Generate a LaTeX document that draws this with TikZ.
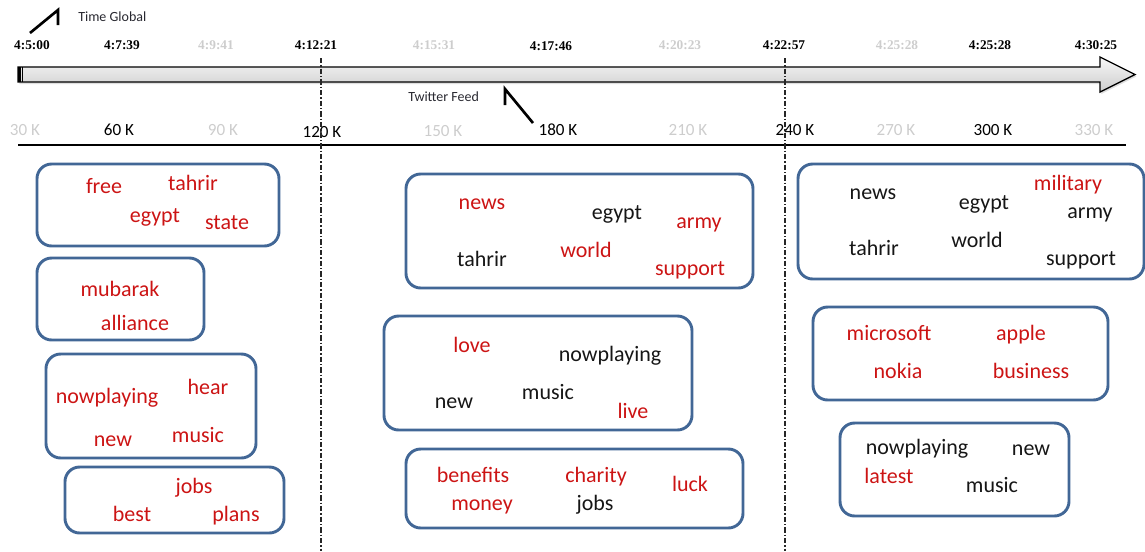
\documentclass[tikz,border=0pt]{standalone}
\usepackage{fontspec}
\setmainfont{Carlito}
\newfontfamily\timefont{Liberation Serif}
\usetikzlibrary{shadows}
\definecolor{boxblue}{RGB}{66,103,150}
\definecolor{wordred}{RGB}{204,20,20}
\definecolor{faint}{RGB}{205,205,205}
\definecolor{ink}{RGB}{22,22,22}
\definecolor{note}{RGB}{40,40,48}
\begin{document}
\begin{tikzpicture}[x=0.75pt,y=-0.75pt,
  wordbox/.style={draw=boxblue, line width=2.2pt, rounded corners=11pt},
  w/.style={anchor=base, inner sep=0pt, font=\fontsize{16.5}{18}\selectfont, text=ink},
  hot/.style={w, text=wordred},
  tick/.style={anchor=base, inner sep=0pt, font=\timefont\bfseries\fontsize{10}{12}\selectfont, text=black},
  ftick/.style={tick, text=faint},
  kl/.style={anchor=base, inner sep=0pt, font=\fontsize{12.8}{14}\selectfont, text=black},
  fkl/.style={kl, text=faint},
  caption/.style={anchor=base west, inner sep=0pt, font=\fontsize{10.5}{12}\selectfont, text=note},
  pointer/.style={draw=black, line width=2pt, line join=miter},
  divider/.style={draw=black!85, line width=0.8pt, dash pattern=on 4pt off 1.5pt on 1pt off 1.5pt}
]
\useasboundingbox (0,0) rectangle (1145,551);

% time axis: block arrow
\path[draw=black, line width=1pt, top color=gray!6, bottom color=gray!40,
      drop shadow={shadow xshift=1pt, shadow yshift=-1.5pt, opacity=0.25}]
  (18,67) -- (1100,67) -- (1100,57) -- (1135,74.5) -- (1100,92) -- (1100,82) -- (18,82) -- cycle;
\fill[black] (18,67) rectangle (20.5,82);
\draw[black, line width=0.6pt] (22,67) -- (22,82);

% time stamps
\node[tick]  (t1)  at (32,49)   {4:5:00};
\node[tick]  (t2)  at (122,49)  {4:7:39};
\node[ftick] (t3)  at (216,49)  {4:9:41};
\node[tick]  (t4)  at (316,49)  {4:12:21};
\node[ftick] (t5)  at (434,49)  {4:15:31};
\node[tick]  (t6)  at (551,50)  {4:17:46};
\node[ftick] (t7)  at (680,49)  {4:20:23};
\node[tick]  (t8)  at (784,49)  {4:22:57};
\node[ftick] (t9)  at (897,49)  {4:25:28};
\node[tick]  (t10) at (990,49)  {4:25:28};
\node[tick]  (t11) at (1096,49) {4:30:25};

% captions and their pointers
\node[caption] (tglobal) at (78,21)  {Time Global};
\node[caption] (tfeed)   at (408,101) {Twitter Feed};
\coordinate (tga) at (30,33);
\coordinate (tgb) at (58,10);
\coordinate (tgc) at (58,25);
\draw[pointer] (tga) -- (tgb) -- (tgc);
\coordinate (tfa) at (533,123);
\coordinate (tfb) at (505,89);
\coordinate (tfc) at (505,105);
\draw[pointer] (tfa) -- (tfb) -- (tfc);

% tweet counts
\node[fkl] (k30)  at (25,135)   {30 K};
\node[kl]  (k60)  at (119,135)  {60 K};
\node[fkl] (k90)  at (223,135)  {90 K};
\node[kl]  (k120) at (322,137)  {120 K};
\node[fkl] (k150) at (443,136)  {150 K};
\node[kl]  (k180) at (558,135)  {180 K};
\node[fkl] (k210) at (688,135)  {210 K};
\node[kl]  (k240) at (795,135)  {240 K};
\node[fkl] (k270) at (896,135)  {270 K};
\node[kl]  (k300) at (993,135)  {300 K};
\node[fkl] (k330) at (1094,135) {330 K};
\coordinate (rulel) at (18,145);
\coordinate (ruler) at (1126,145);
\draw[black, line width=1pt] (rulel) -- (ruler);

% window boundaries
\coordinate (d1t) at (321,58);
\coordinate (d1b) at (321,551);
\coordinate (d2t) at (785,58);
\coordinate (d2b) at (785,551);
\draw[divider] (d1t) -- (d1b);
\draw[divider] (d2t) -- (d2b);

% first window
\draw[wordbox] (37,164) rectangle (279,246);
\node[hot] (a1) at (104,193) {free};
\node[hot] (a2) at (193,190) {tahrir};
\node[hot] (a3) at (155,222) {egypt};
\node[hot] (a4) at (227,229) {state};
\draw[wordbox] (37,258) rectangle (204,340);
\node[hot] (a5) at (120,296) {mubarak};
\node[hot] (a6) at (135,330) {alliance};
\draw[wordbox] (46,354) rectangle (256,458);
\node[hot] (a7) at (107,403) {nowplaying};
\node[hot] (a8) at (208,394) {hear};
\node[hot] (a9) at (113,446) {new};
\node[hot] (a10) at (198,442) {music};
\draw[wordbox] (65,467) rectangle (284,533);
\node[hot] (a11) at (194,493) {jobs};
\node[hot] (a12) at (132,521) {best};
\node[hot] (a13) at (236,521) {plans};

% second window
\draw[wordbox] (406,174) rectangle (753,288);
\node[hot] (b1) at (482,209) {news};
\node[w]   (b2) at (617,219) {egypt};
\node[hot] (b3) at (699,228) {army};
\node[w]   (b4) at (482,266) {tahrir};
\node[hot] (b5) at (586,257) {world};
\node[hot] (b6) at (690,275) {support};
\draw[wordbox] (384,316) rectangle (692,430);
\node[hot] (b7) at (472,352) {love};
\node[w]   (b8) at (610,361) {nowplaying};
\node[w]   (b9) at (454,408) {new};
\node[w]   (b10) at (548,399) {music};
\node[hot] (b11) at (633,418) {live};
\draw[wordbox] (406,449) rectangle (743,528);
\node[hot] (b12) at (473,482) {benefits};
\node[hot] (b13) at (596,482) {charity};
\node[hot] (b14) at (690,491) {luck};
\node[hot] (b15) at (482,510) {money};
\node[w]   (b16) at (595,510) {jobs};

% third window
\draw[wordbox] (798,164) rectangle (1144,279);
\node[w]   (c1) at (873,199) {news};
\node[w]   (c2) at (984,209) {egypt};
\node[hot] (c3) at (1068,190) {military};
\node[w]   (c4) at (1090,218) {army};
\node[w]   (c5) at (874,255) {tahrir};
\node[w]   (c6) at (977,247) {world};
\node[w]   (c7) at (1081,265) {support};
\draw[wordbox] (813,307) rectangle (1108,400);
\node[hot] (c8) at (889,340) {microsoft};
\node[hot] (c9) at (1021,340) {apple};
\node[hot] (c10) at (898,378) {nokia};
\node[hot] (c11) at (1031,378) {business};
\draw[wordbox] (840,423) rectangle (1069,516);
\node[w]   (c12) at (917,454) {nowplaying};
\node[w]   (c13) at (1031,455) {new};
\node[hot] (c14) at (889,483) {latest};
\node[w]   (c15) at (992,492) {music};
\end{tikzpicture}
\end{document}
